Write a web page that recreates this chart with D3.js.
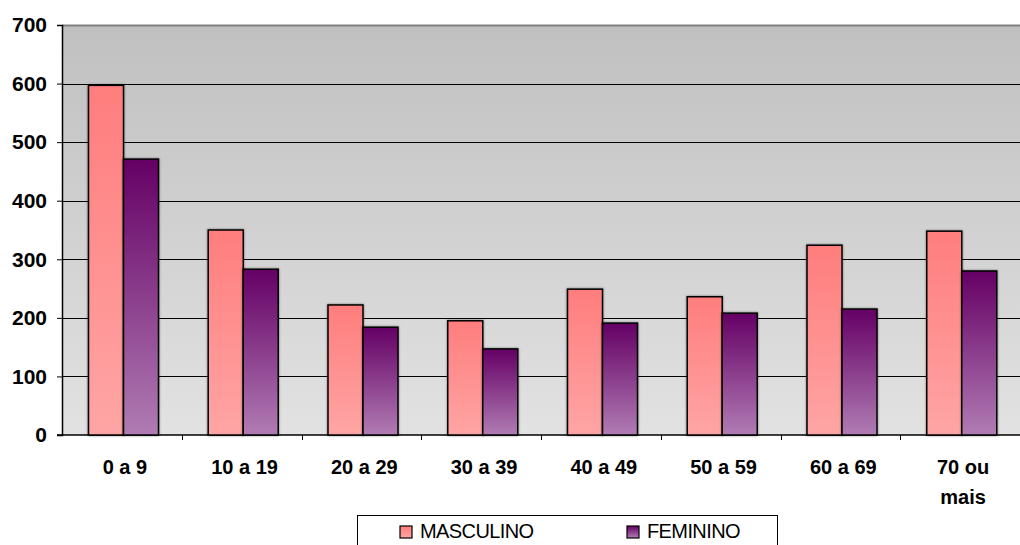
<!DOCTYPE html>
<html>
<head>
<meta charset="utf-8">
<script src="https://cdn.jsdelivr.net/npm/d3@7"></script>
<style>
  body { margin: 0; background: #fff; }
  svg { display: block; font-family: "Liberation Sans", Arial, sans-serif; }
</style>
</head>
<body>
<div id="chart"></div>
<script>
const faixas = ['0 a 9', '10 a 19', '20 a 29', '30 a 39', '40 a 49', '50 a 59', '60 a 69', '70 ou mais']
const masculino = [597, 350, 222, 195, 249, 236, 324, 348]
const feminino = [471, 283, 184, 147, 191, 208, 215, 280]
const yTicks = [0, 100, 200, 300, 400, 500, 600, 700]
const series = ['MASCULINO', 'FEMININO']

const W = 1020, H = 545
const plot = {left: 62, right: 1020, top: 25, bottom: 435}

let svg = d3.select('#chart').append('svg')
  .attr('width', W)
  .attr('height', H)

let defs = svg.append('defs')
function grad(id, top, bottom) {
  let g = defs.append('linearGradient').attr('id', id)
    .attr('x1', 0).attr('y1', 0).attr('x2', 0).attr('y2', 1)
  g.append('stop').attr('offset', '0%').attr('stop-color', top)
  g.append('stop').attr('offset', '100%').attr('stop-color', bottom)
}
grad('bg', '#c0c0c0', '#e2e2e2')
grad('gM', '#ff7d7d', '#ffa5a5')
grad('gF', '#650065', '#b07cb3')

// title (cut off at the top, as in the original)
svg.append('text')
  .attr('x', 548).attr('y', -1.5)
  .attr('text-anchor', 'middle')
  .style('font-size', '24px').style('font-weight', 'bold')
  .style('fill', '#d48cb0')
  .text('Sexo e Faixa Etária')

let x = d3.scaleBand().domain(faixas).range([plot.left, plot.right])
let xs = d3.scaleBand().domain(series).range([0, 70])
let y = d3.scaleLinear().domain([0, 700]).range([plot.bottom, plot.top])

svg.append('rect')
  .attr('x', plot.left).attr('y', plot.top)
  .attr('width', plot.right - plot.left).attr('height', plot.bottom - plot.top)
  .attr('fill', 'url(#bg)')
svg.append('line')
  .attr('x1', plot.left).attr('x2', plot.right)
  .attr('y1', plot.top + 0.5).attr('y2', plot.top + 0.5)
  .attr('stroke', '#808080').attr('stroke-width', 2)

// gridlines
svg.append('g').selectAll('line')
  .data(yTicks.slice(1, -1))
  .join('line')
  .attr('x1', plot.left).attr('x2', plot.right)
  .attr('y1', d => Math.round(y(d)) + 0.5).attr('y2', d => Math.round(y(d)) + 0.5)
  .attr('stroke', '#000').attr('stroke-width', 1)

// y axis
let yAxis = svg.append('g')
  .attr('transform', 'translate(' + plot.left + ',0)')
  .call(d3.axisLeft(y).tickValues(yTicks).tickSize(5).tickPadding(10))
yAxis.selectAll('text').style('font-size', '21px').style('font-weight', 'bold').style('fill', '#000')
yAxis.select('.domain').attr('stroke-width', 1.5)

// x axis
let xAxis = svg.append('g')
  .attr('transform', 'translate(0,' + plot.bottom + ')')
xAxis.append('line')
  .attr('x1', plot.left - 5).attr('x2', plot.right)
  .attr('stroke', '#000').attr('stroke-width', 1.5)
xAxis.selectAll('.tk')
  .data(faixas.slice(1))
  .join('line')
  .attr('class', 'tk')
  .attr('x1', d => Math.round(x(d)) + 0.5).attr('x2', d => Math.round(x(d)) + 0.5)
  .attr('y1', 0).attr('y2', 5)
  .attr('stroke', '#000')
xAxis.selectAll('.lbl')
  .data(faixas)
  .join('text')
  .attr('class', 'lbl')
  .attr('text-anchor', 'middle')
  .style('font-size', '20px').style('font-weight', 'bold')
  .each(function(d) {
    let t = d3.select(this)
    let lines = d === '70 ou mais' ? ['70 ou', 'mais'] : [d]
    lines.forEach((l, i) => {
      t.append('tspan')
        .attr('x', x(d) + x.bandwidth() / 2 + 3)
        .attr('y', 39 + i * 30)
        .text(l)
    })
  })

// bars
let groups = svg.append('g').selectAll('g')
  .data(faixas)
  .join('g')
  .attr('transform', d => 'translate(' + (x(d) + 26.5) + ',0)')

const vals = {MASCULINO: masculino, FEMININO: feminino}
const fills = {MASCULINO: 'url(#gM)', FEMININO: 'url(#gF)'}

groups.selectAll('rect')
  .data((d, i) => series.map(s => ({s: s, v: vals[s][i]})))
  .join('rect')
  .attr('x', d => xs(d.s))
  .attr('width', xs.bandwidth())
  .attr('y', d => y(d.v))
  .attr('height', d => y(0) - y(d.v))
  .attr('fill', d => fills[d.s])
  .attr('stroke', '#000')
  .attr('stroke-width', 1.5)
  .style('filter', 'drop-shadow(0 0 1px rgba(0,0,0,0.5))')

// legend
let legend = svg.append('g')
legend.append('rect')
  .attr('x', 357.5).attr('y', 515.5)
  .attr('width', 420).attr('height', 40)
  .attr('fill', '#fff').attr('stroke', '#000')
const legendX = [400, 627]
series.forEach((s, i) => {
  legend.append('rect')
    .attr('x', legendX[i]).attr('y', 526)
    .attr('width', 12).attr('height', 12)
    .attr('fill', fills[s]).attr('stroke', '#000').attr('stroke-width', 1.2)
  legend.append('text')
    .attr('x', legendX[i] + 20).attr('y', 538)
    .style('font-size', '20px')
    .style('letter-spacing', '-0.6px')
    .text(s)
})
</script>
</body>
</html>
